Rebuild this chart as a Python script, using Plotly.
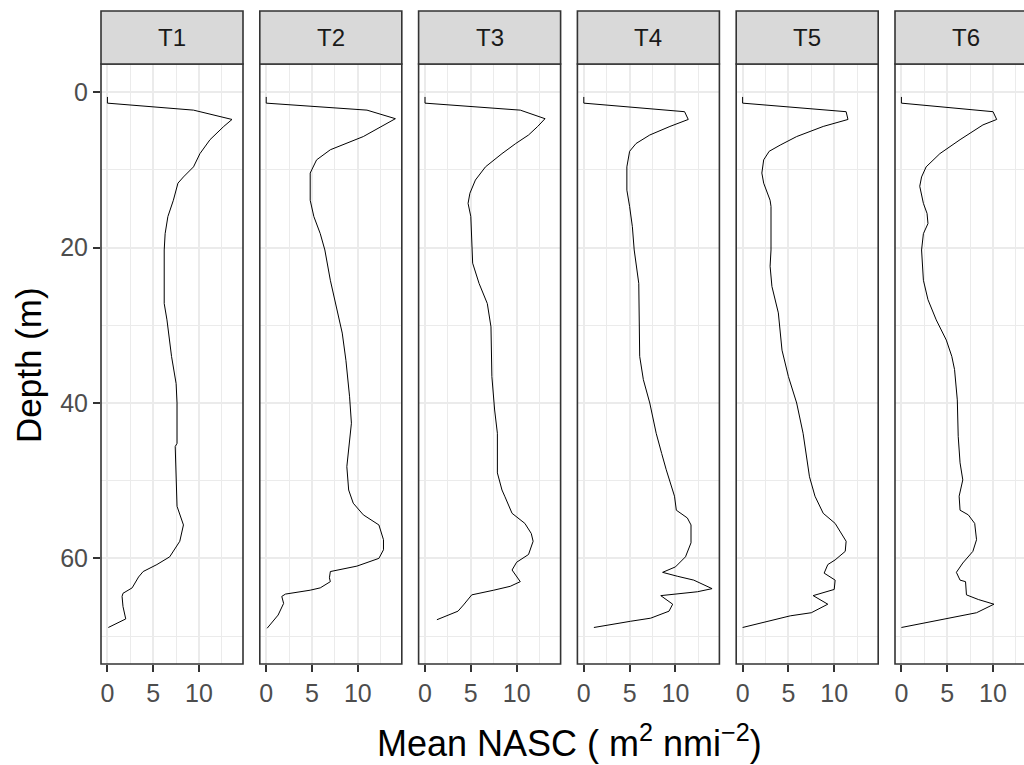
import plotly.graph_objects as go

# ---------------- data ----------------
panels = ["T1", "T2", "T3", "T4", "T5", "T6"]

depth_t1 = [0.6, 1.4, 2.3, 3.5, 4.4, 6.1, 7.9, 9.6, 10.9, 11.7, 13.9, 16.0, 18.2, 20.3, 27.2, 29.3,
            34.0, 37.5, 40.0, 45.2, 45.6, 50.3, 53.3, 55.7, 57.8, 59.8, 60.8, 61.7, 62.4, 63.8, 64.5,
            64.9, 66.2, 67.8, 68.9]
nasc_t1 = [0, 0, 9.4, 13.6, 12.7, 11.2, 10.1, 9.4, 8.3, 7.7, 7.2, 6.6, 6.3, 6.2, 6.2, 6.5,
           7.0, 7.5, 7.6, 7.6, 7.4, 7.5, 7.6, 8.3, 7.9, 6.8, 5.4, 3.9, 3.4, 2.7, 1.7,
           1.6, 1.7, 2.0, 0.1]

depth_t2 = [0.6, 1.4, 2.3, 3.4, 5.7, 7.4, 8.7, 9.8, 10.4, 13.9, 16.0, 18.2, 20.3, 24.2, 28.0, 31.0,
            34.5, 39.2, 42.6, 45.2, 48.2, 51.2, 52.9, 54.4, 55.7, 57.6, 58.9, 60.0, 61.0, 61.7, 62.5,
            63.0, 63.8, 64.1, 64.6, 64.9, 65.8, 67.3, 69.0]
nasc_t2 = [0, 0, 11.0, 14.1, 10.6, 7.0, 5.5, 5.0, 4.8, 4.8, 5.2, 5.9, 6.4, 7.0, 7.7, 8.3,
           8.7, 9.1, 9.3, 9.1, 8.8, 9.0, 9.5, 10.6, 12.3, 12.8, 12.8, 12.3, 9.9, 7.0, 6.9,
           7.0, 5.9, 4.8, 2.1, 1.7, 1.9, 1.3, 0.1]

depth_t3 = [0.6, 1.4, 2.3, 3.4, 4.4, 5.5, 6.6, 7.9, 9.6, 11.3, 13.0, 14.3, 16.0, 20.3, 22.0, 24.6,
            27.2, 30.2, 36.6, 40.9, 43.9, 49.0, 51.2, 52.0, 54.2, 55.5, 56.8, 57.8, 59.5, 60.5, 61.5,
            63.0, 63.6, 64.1, 64.7, 66.0, 66.8, 67.9]
nasc_t3 = [0, 0, 10.4, 13.1, 12.3, 11.3, 9.9, 8.4, 6.6, 5.5, 4.9, 4.7, 5.0, 5.2, 5.2, 5.9,
           6.8, 7.2, 7.3, 7.6, 7.9, 7.9, 8.4, 8.7, 9.5, 10.9, 11.6, 11.8, 11.3, 10.0, 9.5,
           10.4, 9.3, 7.5, 5.1, 4.2, 3.6, 1.3]

depth_t4 = [0.6, 1.4, 2.5, 3.5, 4.4, 5.5, 6.6, 7.6, 9.6, 12.6, 14.7, 17.3, 20.3, 24.6, 34.0, 37.0,
            40.0, 43.9, 46.5, 48.6, 52.0, 53.8, 54.8, 55.7, 58.0, 59.8, 61.1, 61.8, 62.3, 62.8, 63.9,
            64.3, 64.8, 65.9, 66.8, 67.7, 68.1, 68.9]
nasc_t4 = [0, 0, 11.0, 11.4, 9.4, 7.2, 5.7, 5.0, 4.7, 4.7, 5.0, 5.3, 5.5, 6.0, 6.1, 6.5,
           7.2, 7.9, 8.5, 9.0, 9.9, 10.1, 11.3, 11.7, 11.7, 11.1, 10.0, 8.6, 10.2, 12.0, 14.0,
           12.4, 8.4, 9.7, 9.3, 7.3, 5.1, 1.1]

depth_t5 = [0.6, 1.4, 2.5, 3.5, 4.4, 5.7, 6.8, 7.6, 8.7, 10.4, 11.7, 13.9, 14.7, 17.3, 20.3, 22.4,
            25.0, 28.4, 33.2, 36.6, 40.0, 43.9, 46.9, 49.5, 52.0, 54.2, 55.5, 56.8, 57.8, 59.1, 60.2,
            60.8, 61.9, 62.8, 64.0, 64.8, 65.9, 67.0, 67.4, 68.9]
nasc_t5 = [0, 0, 11.3, 11.5, 8.8, 5.9, 4.1, 2.9, 2.3, 2.1, 2.3, 3.0, 3.1, 3.1, 3.1, 3.0,
           3.2, 3.9, 4.3, 5.0, 5.9, 6.6, 7.0, 7.3, 7.9, 8.8, 10.1, 10.8, 11.3, 11.2, 10.1,
           9.3, 8.9, 10.1, 10.0, 7.7, 9.3, 7.5, 5.2, 0]

depth_t6 = [0.6, 1.4, 2.5, 3.5, 4.2, 6.1, 7.9, 9.6, 10.9, 12.1, 14.3, 15.6, 16.9, 18.2, 20.3, 24.2,
            26.7, 29.3, 31.9, 34.0, 35.7, 39.6, 44.3, 47.7, 49.9, 52.0, 53.8, 54.4, 55.5, 57.6, 59.1,
            60.6, 61.8, 62.8, 63.0, 64.7, 65.3, 65.9, 67.0, 67.8, 68.9]
nasc_t6 = [0, 0, 10.0, 10.4, 8.9, 6.4, 4.2, 2.7, 2.2, 2.0, 2.4, 2.8, 2.9, 2.4, 2.2, 2.4,
           2.9, 3.8, 4.9, 5.5, 5.8, 6.1, 6.2, 6.4, 6.7, 6.3, 6.4, 7.3, 8.0, 8.2, 7.8,
           6.7, 6.0, 6.4, 7.0, 7.1, 8.4, 10.1, 8.2, 4.9, 0]

depths = [depth_t1, depth_t2, depth_t3, depth_t4, depth_t5, depth_t6]
values = [nasc_t1, nasc_t2, nasc_t3, nasc_t4, nasc_t5, nasc_t6]

x_tickvals = [0, 5, 10]
x_minor = [2.5, 7.5, 12.5]
y_tickvals = [0, 20, 40, 60]
y_minor = [10, 30, 50, 70]

# ---------------- layout geometry ----------------
W, H = 1024, 765
L, T, B = 101, 64, 101
PW = W - L
PH = H - T - B
panel_w = 142.0
step = 158.8
x_lo, x_hi = -0.7, 14.8
y_top, y_bot = -3.64, 73.6
strip_h = 53

FONT = "Liberation Sans, Arial, sans-serif"
BORDER = "#333333"
GRID = "#EBEBEB"


def fx(px):
    return (px - L) / PW


def fy(py):
    return (H - B - py) / PH


fig = go.Figure()
shapes = []
annotations = []

for i, name in enumerate(panels):
    left = L + i * step
    right = left + panel_w
    dom_r = min(right, W)
    xr_hi = x_lo + (x_hi - x_lo) * (dom_r - left) / panel_w
    sfx = "" if i == 0 else str(i + 1)

    fig.add_trace(go.Scatter(
        x=values[i], y=depths[i], mode="lines",
        line=dict(color="black", width=1),
        xaxis="x" + sfx, yaxis="y" + sfx,
        showlegend=False, hoverinfo="skip"))

    fig.layout["xaxis" + sfx] = dict(
        domain=[fx(left), min(fx(dom_r), 1.0)], range=[x_lo, xr_hi], anchor="y" + sfx,
        tickmode="array", tickvals=x_tickvals,
        ticks="outside", ticklen=7, tickwidth=1.5, tickcolor=BORDER,
        showgrid=True, gridcolor=GRID, gridwidth=1.6,
        minor=dict(tickvals=x_minor, showgrid=True, gridcolor=GRID, gridwidth=0.8, ticks=""),
        zeroline=False, showline=False,
        tickfont=dict(family=FONT, size=25, color="#4D4D4D"),
        fixedrange=True)

    fig.layout["yaxis" + sfx] = dict(
        domain=[0, 1], range=[y_bot, y_top], anchor="x" + sfx,
        tickmode="array", tickvals=y_tickvals,
        showticklabels=(i == 0),
        ticks="outside" if i == 0 else "", ticklen=7, tickwidth=1.5, tickcolor=BORDER,
        showgrid=True, gridcolor=GRID, gridwidth=1.6,
        minor=dict(tickvals=y_minor, showgrid=True, gridcolor=GRID, gridwidth=0.8, ticks=""),
        zeroline=False, showline=False,
        tickfont=dict(family=FONT, size=25, color="#4D4D4D"),
        fixedrange=True)

    # panel border
    shapes.append(dict(type="rect", xref="paper", yref="paper",
                       x0=fx(left), x1=fx(right), y0=0, y1=1,
                       line=dict(color=BORDER, width=1.6), layer="above"))
    # strip
    shapes.append(dict(type="rect", xref="paper", yref="paper",
                       x0=fx(left), x1=fx(right), y0=1, y1=1 + strip_h / PH,
                       fillcolor="#D9D9D9", line=dict(color=BORDER, width=1.6), layer="above"))
    annotations.append(dict(text=name, xref="paper", yref="paper",
                            x=fx((left + right) / 2), y=1 + strip_h / (2 * PH),
                            xanchor="center", yanchor="middle", showarrow=False,
                            font=dict(family=FONT, size=24, color="#1A1A1A")))

annotations.append(dict(text="Mean NASC ( m<sup>2</sup> nmi<sup>\u22122</sup>)",
                        xref="paper", yref="paper", x=fx(569), y=fy(741),
                        xanchor="center", yanchor="middle", showarrow=False,
                        font=dict(family=FONT, size=36, color="black")))
annotations.append(dict(text="Depth (m)", xref="paper", yref="paper",
                        x=fx(28), y=fy(365), textangle=-90,
                        xanchor="center", yanchor="middle", showarrow=False,
                        font=dict(family=FONT, size=35, color="black")))

fig.update_layout(
    width=W, height=H, autosize=False,
    margin=dict(l=L, r=0, t=T, b=B, pad=0),
    paper_bgcolor="white", plot_bgcolor="white",
    shapes=shapes, annotations=annotations,
    font=dict(family=FONT),
)

fig.write_html("out.html", config={"displayModeBar": False},
               post_script="document.body.style.margin='0px';document.body.style.overflow='hidden';")
